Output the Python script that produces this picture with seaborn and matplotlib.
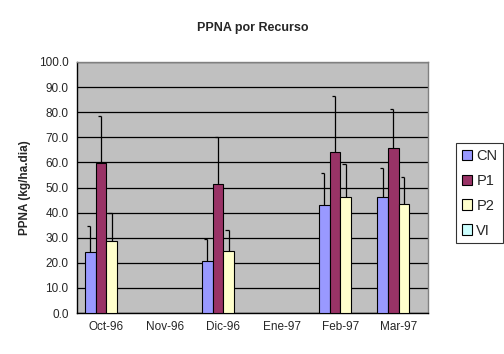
import matplotlib
matplotlib.use("Agg")
import matplotlib.pyplot as plt
import seaborn as sns
import pandas as pd
import numpy as np
from matplotlib.patches import Patch

categories = ["Oct-96", "Nov-96", "Dic-96", "Ene-97", "Feb-97", "Mar-97"]
series = ["CN", "P1", "P2", "VI"]
cn = [24.2, np.nan, 20.6, np.nan, 43.0, 46.2]
p1 = [59.6, np.nan, 51.3, np.nan, 64.0, 65.6]
p2 = [28.6, np.nan, 24.6, np.nan, 46.2, 43.3]
cn_err = [10.5, np.nan, 8.8, np.nan, 12.7, 11.6]
p1_err = [18.8, np.nan, 18.9, np.nan, 22.3, 15.6]
p2_err = [11.4, np.nan, 8.3, np.nan, 13.0, 10.9]
colors = {"CN": "#9999FF", "P1": "#993366", "P2": "#FFFFCC", "VI": "#CCFFFF"}

rows = []
for s, vals, errs in [("CN", cn, cn_err), ("P1", p1, p1_err), ("P2", p2, p2_err)]:
    for c, v, e in zip(categories, vals, errs):
        rows.append({"Mes": c, "Serie": s, "PPNA": v, "err": e})
df = pd.DataFrame(rows)

sns.set_style("white")
plt.rcParams["font.family"] = ["Liberation Sans", "DejaVu Sans"]

fig = plt.figure(figsize=(5.04, 3.54), dpi=100)
ax = fig.add_axes([77/504, 1-313/354, (428-77)/504, (313-62)/354])
ax.set_facecolor("#C0C0C0")

sns.barplot(data=df, x="Mes", y="PPNA", hue="Serie", order=categories,
            hue_order=series, palette=colors, saturation=1, width=0.73,
            errorbar=None, edgecolor="black", linewidth=0.8, ax=ax,
            legend=False, zorder=3)

# error bars (plus only, Excel-style cap to the left), matched to bars
errmap = {(r.Serie, r.Mes): r.err for r in df.itertuples()}
col2ser = {matplotlib.colors.to_hex(v).lower(): k for k, v in colors.items()}
for bar in ax.patches:
    h = bar.get_height()
    if np.isnan(h):
        continue
    xc = bar.get_x() + bar.get_width() / 2
    c = categories[int(round(xc))]
    s = col2ser.get(matplotlib.colors.to_hex(bar.get_facecolor()[:3]).lower())
    e = errmap.get((s, c), np.nan)
    if np.isnan(e):
        continue
    ax.errorbar([xc], [h], yerr=[[0], [e]], fmt="none", ecolor="black",
                elinewidth=0.9, capsize=0, zorder=4)
    capw = bar.get_width() * 0.3
    ax.plot([xc - capw, xc], [h + e, h + e], color="black", lw=0.9, zorder=4,
            solid_capstyle="butt")

ax.set_ylim(0, 100)
ax.set_xlim(-0.5, 5.5)
ax.set_yticks(np.arange(0, 101, 10))
ax.set_yticklabels([f"{v:.1f}" for v in np.arange(0, 101, 10)], fontsize=8.5)
ax.yaxis.grid(True, color="black", linewidth=0.9, zorder=0)
ax.set_axisbelow(True)
ax.set_xticks(range(len(categories)))
ax.set_xticklabels(categories, fontsize=8.5)
ax.tick_params(axis="x", length=0, pad=6)
ax.set_xticks(np.arange(-0.5, 6, 1), minor=True)
ax.tick_params(axis="x", which="minor", length=4, width=0.9, direction="out")
ax.tick_params(axis="y", length=4, width=0.9, direction="out", pad=2)
ax.set_xlabel("")
ax.set_ylabel("PPNA (kg/ha.dia)", fontsize=8.5, fontweight="bold", labelpad=6)
for sp in ["left", "bottom"]:
    ax.spines[sp].set_color("black")
    ax.spines[sp].set_linewidth(1.0)
for sp in ["top", "right"]:
    ax.spines[sp].set_color("#808080")
    ax.spines[sp].set_linewidth(1.0)

fig.text(0.5 * (77 + 428) / 504, 1 - 28 / 354, "PPNA por Recurso", ha="center",
         va="center", fontsize=9, fontweight="bold")

handles = [Patch(facecolor=colors[s], edgecolor="black", linewidth=0.8, label=s) for s in series]
leg = fig.legend(handles=handles, loc="upper left", bbox_to_anchor=(456/504, 1-143/354),
                 frameon=True, fancybox=False, edgecolor="black", fontsize=10.5,
                 handlelength=0.7, handleheight=0.7, handletextpad=0.3,
                 labelspacing=0.75, borderpad=0.4, borderaxespad=0)
leg.get_frame().set_linewidth(0.8)

fig.savefig("out.png", dpi=100, facecolor="white")
